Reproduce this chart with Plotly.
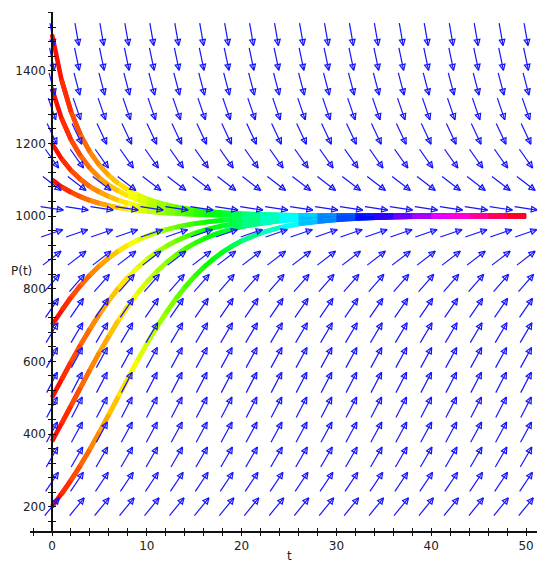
import colorsys
import plotly.graph_objects as go

# ---------------- data ----------------
t_samples = [0, 1, 2, 3, 4, 5, 6, 7, 8, 9, 10, 11, 12, 13, 14, 15, 16, 17, 18, 19, 20,
             22, 24, 26, 28, 30, 32, 34, 36, 38, 40, 42, 44, 46, 48, 50]

P_from_200 = [200, 233.9, 271.6, 313.0, 357.5, 404.6, 453.6, 503.4, 553.2, 602.0, 648.8,
              692.9, 733.7, 770.9, 804.4, 833.9, 859.8, 882.2, 901.5, 917.9, 931.7,
              953.2, 968.1, 978.4, 985.4, 990.2, 993.4, 995.6, 997.0, 998.0, 998.7,
              999.1, 999.4, 999.6, 999.7, 999.8]
P_from_380 = [380, 428.1, 477.6, 527.6, 577.0, 624.9, 670.5, 713.1, 752.2, 787.6, 819.1,
              846.9, 871.1, 891.9, 909.8, 924.9, 937.6, 948.4, 957.3, 964.8, 971.0,
              980.4, 986.7, 991.1, 994.0, 996.0, 997.3, 998.2, 998.8, 999.2, 999.5,
              999.6, 999.8, 999.8, 999.9, 999.9]
P_from_500 = [500, 549.8, 598.7, 645.7, 690.0, 731.1, 768.5, 802.2, 832.0, 858.2, 880.8,
              900.2, 916.8, 930.9, 942.7, 952.6, 960.8, 967.7, 973.4, 978.1, 982.0,
              987.9, 991.8, 994.5, 996.3, 997.5, 998.3, 998.9, 999.3, 999.5, 999.7,
              999.8, 999.8, 999.9, 999.9, 1000.0]
P_from_700 = [700, 740.3, 776.8, 809.6, 838.5, 863.8, 885.7, 904.4, 920.4, 933.8, 945.2,
              954.7, 962.6, 969.2, 974.6, 979.1, 982.8, 985.9, 988.4, 990.5, 992.2,
              994.8, 996.5, 997.6, 998.4, 998.9, 999.3, 999.5, 999.7, 999.8, 999.9,
              999.9, 999.9, 1000.0, 1000.0, 1000.0]
P_from_1100 = [1100, 1080.4, 1064.9, 1052.5, 1042.6, 1034.6, 1028.1, 1022.9, 1018.7, 1015.3,
               1012.5, 1010.2, 1008.3, 1006.8, 1005.6, 1004.5, 1003.7, 1003.0, 1002.5,
               1002.0, 1001.7, 1001.1, 1000.7, 1000.5, 1000.3, 1000.2, 1000.2, 1000.1,
               1000.1, 1000.0, 1000.0, 1000.0, 1000.0, 1000.0, 1000.0, 1000.0]
P_from_1200 = [1200, 1158.0, 1125.8, 1100.7, 1081.0, 1065.3, 1052.9, 1042.9, 1034.8, 1028.3,
               1023.1, 1018.8, 1015.4, 1012.5, 1010.2, 1008.4, 1006.8, 1005.6, 1004.6,
               1003.7, 1003.1, 1002.1, 1001.4, 1000.9, 1000.6, 1000.4, 1000.3, 1000.2,
               1000.1, 1000.1, 1000.1, 1000.0, 1000.0, 1000.0, 1000.0, 1000.0]
P_from_1350 = [1350, 1269.5, 1210.3, 1165.9, 1131.8, 1105.4, 1084.7, 1068.3, 1055.2, 1044.8,
               1036.4, 1029.6, 1024.1, 1019.6, 1016.0, 1013.1, 1010.7, 1008.7, 1007.1,
               1005.8, 1004.8, 1003.2, 1002.1, 1001.4, 1001.0, 1000.6, 1000.4, 1000.3,
               1000.2, 1000.1, 1000.1, 1000.1, 1000.0, 1000.0, 1000.0, 1000.0]
P_from_1500 = [1500, 1375.3, 1287.7, 1223.9, 1176.2, 1139.8, 1111.6, 1089.6, 1072.2, 1058.3,
               1047.2, 1038.3, 1031.2, 1025.4, 1020.7, 1016.9, 1013.8, 1011.2, 1009.2,
               1007.5, 1006.1, 1004.1, 1002.7, 1001.8, 1001.2, 1000.8, 1000.6, 1000.4,
               1000.2, 1000.2, 1000.1, 1000.1, 1000.1, 1000.0, 1000.0, 1000.0]

curves = [P_from_1500, P_from_1350, P_from_1200, P_from_1100,
          P_from_700, P_from_500, P_from_380, P_from_200]

# direction-field grid (columns in t, rows in P) and slope dP/dt read per row
arrow_t = [0, 2.63, 5.26, 7.89, 10.53, 13.16, 15.79, 18.42, 21.05, 23.68,
           26.32, 28.95, 31.58, 34.21, 36.84, 39.47, 42.11, 44.74, 47.37, 50]
arrow_P = [200, 268.4, 336.8, 405.3, 473.7, 542.1, 610.5, 678.9, 747.4, 815.8,
           884.2, 952.6, 1021.1, 1089.5, 1157.9, 1226.3, 1294.7, 1363.2, 1431.6, 1500]
arrow_slope = [32, 39, 45, 48, 50, 50, 48, 44, 38, 30,
               20, 9, -4, -20, -37, -56, -76, -99, -124, -150]

x_ticks = [0, 10, 20, 30, 40, 50]
y_ticks = [200, 400, 600, 800, 1000, 1200, 1400]

# ---------------- layout geometry ----------------
# the page body adds an 8px offset, so the figure is 8px smaller than the window
OFF = 8
W, H = 545 - OFF, 562 - OFF
ML, MR, MT, MB = 30 - OFF, 0, 12 - OFF, 31
x_range = [-2.32, 52.0]
y_range = [133.1, 1561.6]
sx = (W - ML - MR) / (x_range[1] - x_range[0])   # px per t unit
sy = (H - MT - MB) / (y_range[1] - y_range[0])   # px per P unit
yaxis_pos = (0 - x_range[0]) / (x_range[1] - x_range[0])

fig = go.Figure()

# ---------------- solution curves, rainbow coloured along t ----------------
def hue_color(tv):
    h = (tv / 50.0) % 1.0
    r, g, b = colorsys.hsv_to_rgb(h, 1.0, 1.0)
    return f"rgb({int(r*255)},{int(g*255)},{int(b*255)})"

n = len(t_samples)
for P in curves:
    for i in range(n - 1):
        j = min(i + 3, n)
        tmid = 0.5 * (t_samples[i] + t_samples[i + 1])
        fig.add_trace(go.Scatter(
            x=t_samples[i:j], y=P[i:j], mode="lines",
            line=dict(color=hue_color(tmid), width=4.6),
            hoverinfo="skip", showlegend=False))

# ---------------- direction field arrows ----------------
L = 23.0     # arrow length in px
HL = 6.0     # head length px
HW = 2.8     # head half width px
ax_x, ax_y = [], []
for P0, m in zip(arrow_P, arrow_slope):
    dx, dy = sx * 1.0, sy * m
    nrm = (dx * dx + dy * dy) ** 0.5
    ux, uy = dx / nrm, dy / nrm
    for t0 in arrow_t:
        tx, ty = t0 - 0.5 * L * ux / sx, P0 - 0.5 * L * uy / sy
        hx, hy = t0 + 0.5 * L * ux / sx, P0 + 0.5 * L * uy / sy
        bx, by = -HL * ux, -HL * uy
        lx, ly = bx - HW * uy, by + HW * ux
        rx, ry = bx + HW * uy, by - HW * ux
        ax_x += [tx, hx, None,
                 hx, hx + lx / sx, hx + rx / sx, hx, None]
        ax_y += [ty, hy, None,
                 hy, hy + ly / sy, hy + ry / sy, hy, None]

fig.add_trace(go.Scatter(x=ax_x, y=ax_y, mode="lines",
                         line=dict(color="rgb(20,20,255)", width=1.2),
                         hoverinfo="skip", showlegend=False))

# empty trace so the overlay (tick-crossing) axes exist
fig.add_trace(go.Scatter(x=[], y=[], xaxis="x2", yaxis="y2", showlegend=False))

tickfont = dict(family="DejaVu Sans", size=12, color="#222")
axcol = "#111"

fig.update_layout(
    width=W, height=H,
    margin=dict(l=ML, r=MR, t=MT, b=MB, pad=0),
    paper_bgcolor="white", plot_bgcolor="white",
    showlegend=False,
    xaxis=dict(range=x_range, showgrid=False, zeroline=False,
               showline=True, linecolor=axcol, linewidth=1.5,
               tickmode="array", tickvals=x_ticks, ticktext=[str(v) for v in x_ticks],
               ticks="outside", ticklen=3, tickwidth=1.2, tickcolor=axcol,
               tickfont=tickfont,
               minor=dict(tickmode="linear", tick0=0, dtick=2, ticks="outside",
                          ticklen=3, tickwidth=1.2, tickcolor=axcol)),
    yaxis=dict(range=y_range, showgrid=False, zeroline=False,
               anchor="free", position=yaxis_pos,
               showline=True, linecolor=axcol, linewidth=1.5,
               tickmode="array", tickvals=y_ticks, ticktext=[str(v) for v in y_ticks],
               ticks="outside", ticklen=3, tickwidth=1.2, tickcolor=axcol,
               tickfont=tickfont,
               minor=dict(tickmode="linear", tick0=200, dtick=40, ticks="outside",
                          ticklen=3, tickwidth=1.2, tickcolor=axcol)),
    xaxis2=dict(range=x_range, overlaying="x", anchor="y2", side="bottom",
                showgrid=False, zeroline=False, showline=False,
                tickmode="array", tickvals=x_ticks, showticklabels=False,
                ticks="inside", ticklen=3, tickwidth=1.2, tickcolor=axcol,
                minor=dict(tickmode="linear", tick0=0, dtick=2, ticks="inside",
                           ticklen=3, tickwidth=1.2, tickcolor=axcol)),
    yaxis2=dict(range=y_range, overlaying="y", anchor="free", position=yaxis_pos,
                side="left", showgrid=False, zeroline=False, showline=False,
                tickmode="array", tickvals=y_ticks, showticklabels=False,
                ticks="inside", ticklen=3, tickwidth=1.2, tickcolor=axcol,
                minor=dict(tickmode="linear", tick0=200, dtick=40, ticks="inside",
                           ticklen=3, tickwidth=1.2, tickcolor=axcol)),
    annotations=[
        dict(text="t", xref="paper", yref="paper",
             x=(289 - 30) / (W - ML - MR), y=-(556 - 531) / (H - MT - MB),
             showarrow=False, font=dict(family="DejaVu Sans", size=12, color="#222"),
             xanchor="center", yanchor="middle"),
        dict(text="P(t)", xref="paper", yref="paper",
             x=(21 - 30) / (W - ML - MR), y=(531 - 270.7) / (H - MT - MB),
             showarrow=False, font=dict(family="DejaVu Sans", size=12, color="#222"),
             xanchor="center", yanchor="middle"),
    ],
)

fig.write_html("out.html")
